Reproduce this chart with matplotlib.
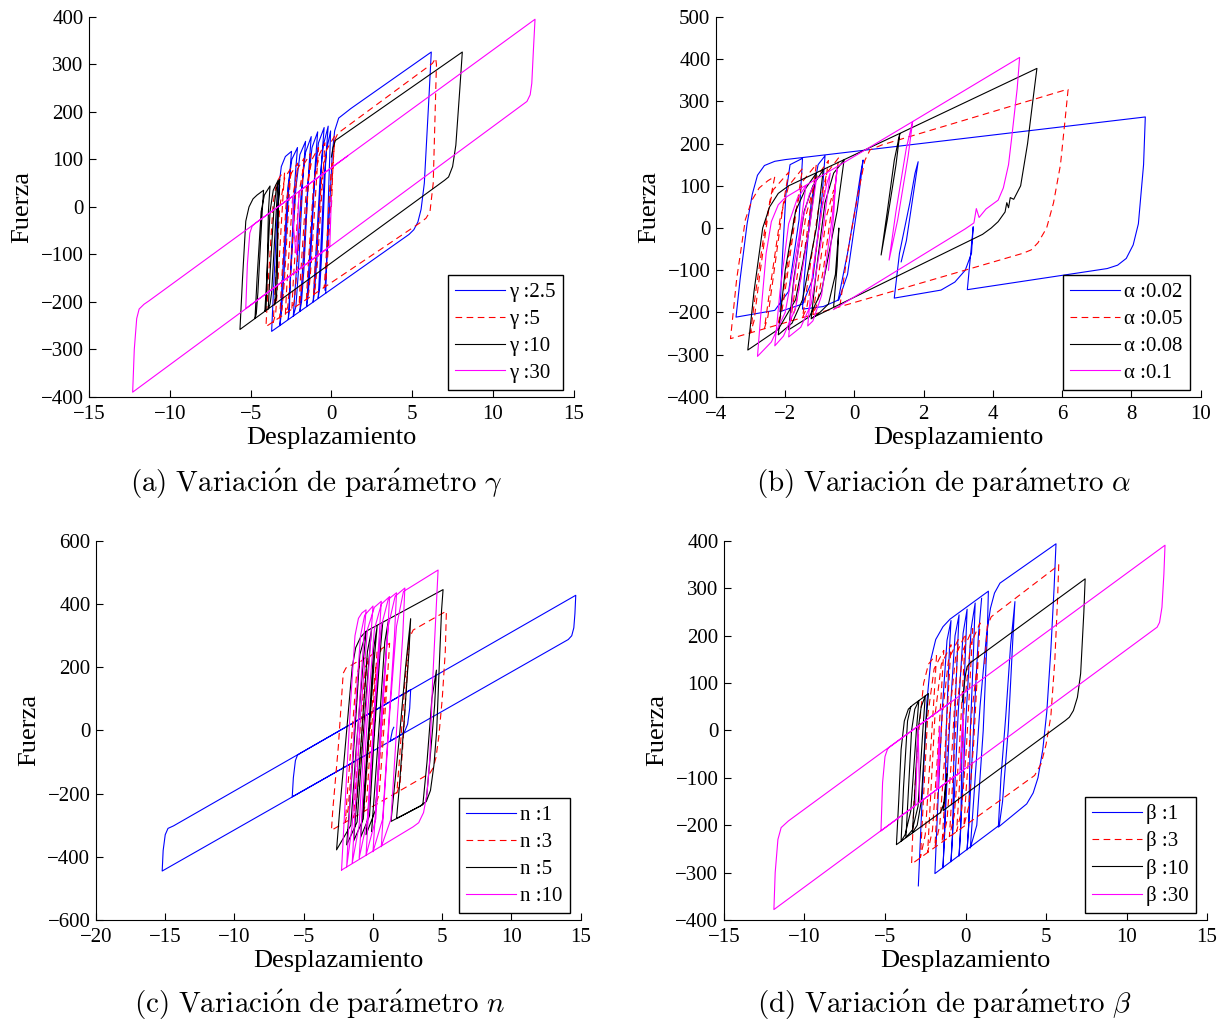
import matplotlib
matplotlib.use("Agg")
import matplotlib.pyplot as plt

plt.rcParams['font.family'] = ['Liberation Serif', 'DejaVu Serif']
plt.rcParams['mathtext.fontset'] = 'cm'

# ---------- data: (desplazamiento, fuerza) vertices ----------

# (a) gamma
a_gamma_2p5 = [
    (-0.4, -175), (-0.2, -60), (0.05, 110), (0.2, 160), (0.45, 187), (1.2, 207), (6.18, 326),
    (6.05, 240), (5.75, 50), (5.55, -5), (5.35, -32), (5.1, -48), (4.8, -58), (-3.7, -262),
    (-3.55, -150), (-3.3, 30), (-3.1, 85), (-2.85, 106), (-2.47, 117),
    (-2.6, 60), (-2.95, -150), (-3.1, -225), (-3.19, -250),
    (-3.05, -160), (-2.7, 40), (-2.45, 100), (-2.1, 125),
    (-2.25, 60), (-2.55, -150), (-2.6, -215), (-2.67, -237),
    (-2.55, -160), (-2.2, 40), (-1.95, 110), (-1.6, 138),
    (-1.75, 70), (-2.05, -140), (-2.2, -210), (-2.36, -230),
    (-2.2, -150), (-1.85, 40), (-1.6, 115), (-1.25, 148),
    (-1.4, 80), (-1.7, -130), (-1.85, -200), (-1.95, -220),
    (-1.8, -140), (-1.45, 50), (-1.2, 125), (-0.85, 158),
    (-1.0, 90), (-1.3, -120), (-1.45, -190), (-1.54, -210),
    (-1.4, -130), (-1.05, 60), (-0.8, 135), (-0.45, 167),
    (-0.6, 100), (-0.9, -110), (-1.05, -180), (-1.13, -200),
    (-1.0, -120), (-0.7, 60), (-0.5, 130), (-0.2, 170),
    (-0.35, 100), (-0.6, -100), (-0.72, -170), (-0.82, -192),
    (-0.7, -120), (-0.45, 60), (-0.3, 120), (-0.05, 160),
    (-0.15, 60), (-0.3, -120), (-0.35, -181),
]
a_gamma_5 = [
    (0.0, 0), (0.1, 90), (0.2, 140), (0.4, 155), (6.25, 302), (6.45, 313), (6.5, 300),
    (6.42, 200), (6.3, 50), (6.1, -10), (5.85, -24), (5.5, -33), (5.2, -40), (-4.05, -252),
    (-3.9, -150), (-3.6, 10), (-3.4, 50), (-3.15, 66), (-2.9, 73),
    (-3.0, 20), (-3.3, -150), (-3.45, -225), (-3.6, -243),
    (-3.5, -180), (-3.2, 0), (-2.9, 60), (-2.5, 82),
    (-2.6, 30), (-2.9, -150), (-3.05, -215), (-3.2, -234),
    (-3.1, -170), (-2.8, 10), (-2.5, 70), (-2.1, 92),
    (-2.2, 40), (-2.55, -150), (-2.7, -210), (-2.85, -226),
    (-2.75, -160), (-2.4, 20), (-2.1, 80), (-1.7, 102),
    (-1.8, 50), (-2.15, -140), (-2.3, -200), (-2.45, -216),
    (-2.35, -150), (-2.0, 30), (-1.7, 90), (-1.3, 112),
    (-1.4, 60), (-1.75, -130), (-1.9, -190), (-2.0, -206),
    (-1.9, -140), (-1.55, 40), (-1.2, 100), (-0.8, 125),
    (-0.9, 70), (-1.25, -120), (-1.4, -180), (-1.55, -196),
    (-1.45, -130), (-1.1, 50), (-0.75, 110), (-0.4, 135),
    (-0.5, 80), (-0.85, -110), (-1.0, -170), (-1.1, -185),
    (-1.0, -120), (-0.6, 60), (-0.3, 120), (0.21, 150),
    (0.1, 90), (-0.2, -90), (-0.35, -160), (-0.45, -170),
    (-0.35, -120), (-0.1, 40), (0.05, 100),
]
a_gamma_10 = [
    (0.0, 105), (0.1, 125), (0.25, 140), (8.1, 326),
    (7.95, 250), (7.7, 130), (7.5, 85), (7.25, 63), (7.0, 56), (-5.66, -258),
    (-5.5, -150), (-5.3, -30), (-5.1, 0), (-4.85, 17), (-4.6, 25), (-4.2, 35),
    (-4.3, -20), (-4.55, -180), (-4.65, -225), (-4.73, -235),
    (-4.6, -150), (-4.35, -10), (-4.15, 25), (-3.8, 44),
    (-3.9, -10), (-4.0, -180), (-4.05, -215), (-4.12, -220),
    (-4.0, -150), (-3.8, -10), (-3.6, 35), (-3.3, 56),
    (-3.4, 0), (-3.7, -180), (-3.8, -205), (-3.91, -215),
    (-3.8, -140), (-3.55, 0), (-3.4, 40), (-3.2, 58),
    (-3.3, 0), (-3.35, -150), (-3.4, -190), (-3.5, -205),
    (-3.4, -120), (-3.3, 0), (-3.2, 45),
]
a_gamma_30 = [
    (0.0, 20), (-0.05, -30), (-0.1, -83), (-5.3, -214),
    (-5.2, -120), (-5.05, -55), (-4.9, -40), (-4.7, -34), (-2.4, 22),
    (-2.35, -40), (-2.2, -95), (-2.15, -100),
    (-2.1, -40), (-2.0, 33), (12.6, 395),
    (12.5, 330), (12.4, 260), (12.3, 236), (12.1, 222), (-12.3, -390),
    (-12.2, -300), (-12.05, -235), (-11.9, -215), (-11.6, -205), (-11.3, -198), (1.0, 107),
]

# (b) alpha
b_alpha_002 = [
    (-0.47, -170), (-0.2, -60), (0.05, 60), (0.18, 130), (0.25, 161),
    (0.1, 60), (-0.2, -110), (-0.45, -170), (-0.9, -186), (-1.5, -192),
    (-1.45, -120), (-1.25, 60), (-1.05, 150), (-0.85, 171),
    (-0.95, 60), (-1.2, -120), (-1.5, -180), (-2.15, -198),
    (-2.1, -100), (-1.98, 80), (-1.86, 150), (-1.5, 165),
    (-1.6, 20), (-1.9, -150), (-2.3, -195), (-3.42, -211),
    (-3.3, -120), (-3.1, 10), (-2.95, 80), (-2.8, 125), (-2.6, 148), (-2.3, 158), (-2.0, 162), (8.4, 263),
    (8.35, 150), (8.2, 10), (8.05, -40), (7.85, -72), (7.6, -88), (7.3, -96), (3.26, -146),
    (3.43, 3),
    (3.38, -60), (3.2, -100), (2.9, -128), (2.5, -147), (1.15, -166),
    (1.3, -60), (1.6, 60), (1.75, 130), (1.84, 157),
    (1.7, 80), (1.5, -30), (1.35, -80),
]
b_alpha_005 = [
    (-0.42, -185), (-0.2, -60), (0.1, 80), (0.3, 160), (0.45, 185), (0.8, 197), (6.05, 326), (6.17, 328),
    (6.1, 270), (5.95, 150), (5.75, 60), (5.55, 0), (5.3, -35), (5.1, -52), (4.86, -60), (-3.58, -262),
    (-3.4, -120), (-3.15, 20), (-2.96, 66), (-2.75, 95), (-2.5, 112), (-2.3, 122),
    (-2.45, 60), (-2.75, -120), (-2.9, -220), (-3.0, -248),
    (-2.85, -150), (-2.55, 20), (-2.35, 90), (-1.9, 132),
    (-2.05, 60), (-2.35, -120), (-2.5, -210), (-2.6, -238),
    (-2.45, -150), (-2.15, 20), (-1.9, 100), (-1.5, 141),
    (-1.65, 60), (-1.95, -120), (-2.1, -200), (-2.2, -229),
    (-2.05, -150), (-1.75, 20), (-1.5, 110), (-1.1, 151),
    (-1.25, 60), (-1.55, -120), (-1.72, -195), (-1.85, -220),
    (-1.7, -140), (-1.4, 30), (-1.1, 120), (-0.75, 160),
    (-0.9, 70), (-1.2, -110), (-1.38, -190), (-1.5, -212),
    (-1.35, -130), (-1.05, 40), (-0.8, 130), (-0.45, 167),
    (-0.6, 80), (-0.9, -100), (-1.08, -180), (-1.2, -205),
    (-1.05, -120), (-0.8, 30), (-0.6, 90),
]
b_alpha_008 = [
    (-0.6, -185), (-0.5, -90), (-0.45, 0),
    (-0.55, -110), (-0.75, -180), (-1.0, -200), (-1.25, -215),
    (-1.1, -100), (-0.85, 60), (-0.6, 130), (-0.3, 161),
    (-0.5, 40), (-0.95, -150), (-1.3, -210), (-1.9, -241),
    (-1.75, -120), (-1.45, 40), (-1.2, 100), (-0.9, 138),
    (-1.1, 0), (-1.5, -170), (-1.8, -225), (-2.2, -253),
    (-2.0, -100), (-1.7, 40), (-1.4, 95), (-1.1, 130),
    (-1.3, 0), (-1.7, -170), (-2.2, -240), (-3.08, -289),
    (-2.9, -150), (-2.65, 0), (-2.45, 50), (-2.2, 82), (-1.9, 100), (1.31, 224),
    (1.2, 150), (0.95, 20), (0.77, -64),
    (0.95, 40), (1.15, 160), (1.31, 224), (5.27, 378),
    (5.15, 300), (5.0, 200), (4.8, 100), (4.6, 68), (4.5, 72), (4.45, 48), (4.4, 60),
    (4.35, 38), (4.15, 15), (3.95, 0), (3.7, -15), (-0.43, -181), (-1.2, -212),
]
b_alpha_01 = [
    (-0.75, -100), (-0.6, 30), (-0.55, 100), (-0.5, 140),
    (-0.65, 20), (-0.95, -160), (-1.2, -220), (-1.35, -232),
    (-1.2, -100), (-0.95, 40), (-0.8, 105), (-0.7, 130),
    (-0.9, 0), (-1.25, -180), (-1.55, -235), (-1.9, -258),
    (-1.75, -130), (-1.5, 20), (-1.3, 80), (-1.1, 115),
    (-1.3, 0), (-1.7, -190), (-2.05, -256), (-2.3, -279),
    (-2.15, -150), (-1.9, 10), (-1.65, 70), (-1.4, 100),
    (-1.6, -20), (-2.0, -200), (-2.4, -270), (-2.8, -304),
    (-2.7, -200), (-2.55, -60), (-2.4, 15), (-2.2, 55), (-2.0, 72), (1.68, 252),
    (1.55, 170), (1.25, 20), (1.0, -76),
    (1.2, 40), (1.5, 190), (1.68, 252), (4.77, 404),
    (4.7, 330), (4.55, 220), (4.45, 150), (4.3, 95), (4.15, 66), (3.8, 45), (3.6, 25), (3.52, 46),
    (3.45, 12), (3.2, -2), (-0.6, -193),
]

# (c) n
c_n_1 = [
    (0.0, -65), (-5.83, -210), (-5.75, -150), (-5.6, -95), (-5.45, -78), (-5.2, -71), (2.72, 129),
    (2.65, 70), (2.5, 20), (2.3, -2), (2.0, -15), (-15.22, -445),
    (-15.15, -380), (-15.0, -330), (-14.8, -310), (-14.4, -302), (14.64, 428),
    (14.58, 370), (14.5, 325), (14.35, 300), (14.1, 288), (1.25, -33), (1.4, 0), (1.5, 10),
]
c_n_3 = [
    (2.66, 312), (2.5, 200), (2.15, -50), (1.95, -170), (1.72, -198),
    (1.9, -100), (2.3, 150), (2.6, 290), (2.9, 318), (5.3, 378),
    (5.22, 250), (5.0, 100), (4.75, -20), (4.55, -85), (4.35, -118), (4.1, -136), (-3.0, -316),
    (-2.9, -250), (-2.5, -50), (-2.15, 181), (-1.95, 198), (-1.67, 204), (-1.0, 221),
    (-1.15, 120), (-1.5, -100), (-1.8, -250), (-2.0, -290),
    (-1.85, -200), (-1.5, 0), (-1.2, 170), (-0.9, 218), (-0.4, 236),
    (-0.55, 150), (-0.9, -80), (-1.2, -240), (-1.4, -276),
    (-1.25, -180), (-0.9, 20), (-0.55, 200), (-0.2, 236), (0.3, 253),
    (0.15, 150), (-0.2, -50), (-0.45, -220), (-0.7, -258),
    (-0.5, -150), (-0.1, 60), (0.2, 200), (0.6, 258), (1.2, 276),
    (1.05, 170), (0.7, -50), (0.45, -200), (0.2, -236),
    (0.4, -140), (0.8, 80), (1.0, 180),
]
c_n_5 = [
    (-0.1, -320), (0.1, -200), (0.5, 50), (0.85, 280), (1.1, 345),
    (0.95, 250), (0.55, 0), (0.2, -250), (-0.5, -330),
    (-0.3, -230), (0.1, 20), (0.45, 270), (0.7, 340),
    (0.5, 240), (0.1, -10), (-0.25, -270), (-0.9, -339),
    (-0.7, -230), (-0.3, 10), (0.05, 260), (0.3, 330),
    (0.1, 230), (-0.3, -20), (-0.7, -280), (-1.4, -350),
    (-1.2, -240), (-0.8, 0), (-0.4, 250), (-0.1, 320),
    (-0.3, 220), (-0.75, -40), (-1.15, -290), (-1.9, -362),
    (-1.7, -250), (-1.3, 0), (-0.95, 240), (-0.5, 312),
    (-0.7, 220), (-1.2, -50), (-1.6, -300), (-2.63, -378),
    (-2.4, -250), (-1.9, 0), (-1.5, 200), (-1.25, 262), (-0.9, 295), (-0.5, 314), (5.06, 446),
    (4.95, 380), (4.8, 220), (4.6, 0), (4.4, -110), (4.15, -190), (3.85, -225), (3.38, -240), (1.3, -288),
    (1.5, -200), (1.95, 0), (2.35, 200), (2.72, 354),
    (2.6, 250), (2.2, 0), (1.9, -180), (1.7, -279),
    (3.6, -235), (3.9, -100), (4.25, 100), (4.58, 191),
    (4.45, 80), (4.1, -100), (3.85, -220),
]
c_n_10 = [
    (-2.27, -442), (-2.1, -300), (-1.6, 100), (-1.3, 300), (-1.05, 355), (-0.8, 372), (-0.5, 382),
    (-0.65, 300), (-1.1, 0), (-1.5, -300), (-1.9, -432),
    (-1.75, -300), (-1.3, 50), (-0.9, 300), (-0.6, 365), (0.0, 394),
    (-0.15, 300), (-0.6, 0), (-1.0, -300), (-1.5, -420),
    (-1.35, -300), (-0.9, 50), (-0.4, 320), (0.1, 390), (0.6, 409),
    (0.45, 300), (0.0, 0), (-0.4, -280), (-1.0, -405),
    (-0.85, -300), (-0.4, 50), (0.1, 320), (0.6, 400), (1.2, 424),
    (1.05, 300), (0.6, 0), (0.2, -280), (-0.5, -395),
    (-0.35, -280), (0.1, 50), (0.6, 330), (1.1, 415), (1.7, 436),
    (1.55, 300), (1.1, 0), (0.7, -280), (0.0, -384),
    (0.15, -280), (0.6, 50), (1.1, 330), (1.6, 425), (2.3, 451),
    (2.15, 300), (1.7, 0), (1.3, -280), (0.6, -368),
    (0.75, -260), (1.2, 50), (1.7, 330), (2.2, 440), (4.7, 508),
    (4.5, 330), (4.3, 150), (4.1, -90), (3.9, -200), (3.65, -260), (3.3, -292), (2.9, -305), (-2.27, -442),
]

# (d) beta
d_beta_1 = [
    (-2.93, -328), (-2.7, -150), (-2.4, 60), (-2.15, 150), (-1.85, 192), (-1.4, 219), (-0.96, 235), (1.42, 294),
    (1.35, 200), (1.1, 0), (0.7, -200), (0.3, -248),
    (0.5, -150), (0.9, 50), (1.3, 200), (1.55, 258), (1.8, 290), (2.14, 311), (5.62, 394),
    (5.5, 300), (5.3, 170), (5.05, 40), (4.8, -40), (4.5, -100), (4.2, -132), (3.8, -155), (2.04, -204),
    (2.2, -100), (2.5, 30), (2.8, 180), (3.07, 272),
    (2.95, 200), (2.65, 0), (2.3, -150), (2.1, -200), (-1.9, -302),
    (-1.75, -180), (-1.45, 40), (-1.15, 190), (-0.9, 232),
    (-1.0, 170), (-1.2, 0), (-1.3, -220), (-1.4, -290),
    (-1.25, -180), (-0.95, 40), (-0.65, 200), (-0.4, 244),
    (-0.5, 170), (-0.7, 0), (-0.8, -220), (-0.9, -277),
    (-0.75, -180), (-0.45, 40), (-0.15, 205), (0.1, 256),
    (0.0, 170), (-0.2, 0), (-0.3, -210), (-0.4, -265),
    (-0.25, -170), (0.05, 40), (0.35, 215), (0.6, 269),
    (0.5, 170), (0.3, 0), (0.2, -200), (0.1, -252),
    (0.25, -170), (0.55, 40), (0.8, 200), (1.0, 279),
]
d_beta_3 = [
    (1.2, 140), (1.35, 220), (1.6, 240), (5.6, 344), (5.79, 350),
    (5.72, 280), (5.55, 150), (5.3, 30), (5.0, -30), (4.7, -70), (4.29, -95), (-3.35, -282),
    (-3.2, -150), (-2.9, 0), (-2.6, 100), (-2.3, 140), (-2.0, 153), (-1.8, 158),
    (-1.9, 100), (-2.2, -60), (-2.5, -220), (-2.8, -268),
    (-2.65, -170), (-2.35, 30), (-1.95, 130), (-1.35, 169),
    (-1.45, 110), (-1.75, -60), (-2.05, -210), (-2.35, -257),
    (-2.2, -160), (-1.9, 30), (-1.5, 140), (-0.9, 181),
    (-1.0, 120), (-1.3, -60), (-1.6, -200), (-1.9, -246),
    (-1.75, -150), (-1.45, 30), (-1.05, 150), (-0.45, 192),
    (-0.55, 130), (-0.85, -50), (-1.15, -190), (-1.45, -235),
    (-1.3, -150), (-1.0, 30), (-0.6, 160), (0.0, 204),
    (-0.1, 140), (-0.4, -50), (-0.7, -180), (-1.0, -224),
    (-0.85, -140), (-0.55, 40), (-0.15, 170), (0.45, 215),
    (0.35, 150), (0.05, -40), (-0.25, -170), (-0.55, -213),
    (-0.4, -130), (-0.1, 40), (0.3, 180), (0.9, 227),
    (0.8, 160), (0.5, -30), (0.2, -160), (-0.1, -202),
    (0.05, -120), (0.4, 40), (0.8, 160),
]
d_beta_10 = [
    (-0.2, 60), (0.0, 118), (0.1, 135), (0.3, 143), (7.43, 320),
    (7.35, 250), (7.15, 120), (6.95, 70), (6.7, 42), (6.45, 28), (6.2, 21), (-1.39, -169),
    (-1.25, -120), (-1.15, -91),
    (-1.3, -150), (-1.55, -173), (-4.29, -241),
    (-4.15, -150), (-4.0, -40), (-3.8, 20), (-3.55, 45), (-3.3, 53), (-2.3, 78),
    (-2.45, 20), (-2.75, -150), (-3.0, -200), (-3.3, -216),
    (-3.15, -130), (-2.95, 0), (-2.75, 50), (-2.5, 73),
    (-2.65, 0), (-2.95, -160), (-3.3, -210), (-3.7, -226),
    (-3.55, -130), (-3.35, 0), (-3.15, 45), (-2.9, 63),
    (-3.05, 0), (-3.4, -170), (-3.75, -220), (-4.0, -234),
    (-3.85, -120), (-3.6, 20), (-3.4, 50),
]
d_beta_30 = [
    (-0.1, -83), (-0.15, 36),
    (-0.25, -20), (-0.35, -89), (-1.7, -123),
    (-1.62, -40), (-1.6, 8),
    (-1.7, -60), (-1.8, -125), (-2.85, -152),
    (-2.9, -60), (-2.95, 9),
    (-3.0, -40), (-3.1, -158), (-5.25, -212),
    (-5.15, -110), (-5.0, -55), (-4.85, -40), (-4.75, -36), (12.39, 391),
    (12.32, 330), (12.2, 260), (12.05, 228), (11.9, 218), (-11.9, -378),
    (-11.82, -300), (-11.65, -230), (-11.45, -205), (-11.0, -191), (-1.0, 58),
]

gamma_labels = [u'\u03b3 :2.5', u'\u03b3 :5', u'\u03b3 :10', u'\u03b3 :30']
alpha_labels = [u'\u03b1 :0.02', u'\u03b1 :0.05', u'\u03b1 :0.08', u'\u03b1 :0.1']
n_labels = ['n :1', 'n :3', 'n :5', 'n :10']
beta_labels = [u'\u03b2 :1', u'\u03b2 :3', u'\u03b2 :10', u'\u03b2 :30']

COLORS = ['#0000ff', '#ff0000', '#000000', '#ff00ff']
DASHED = [False, True, False, False]

panels = [
    dict(rect=[0.0731, 0.612, 0.398, 0.3715],
         series=[a_gamma_2p5, a_gamma_5, a_gamma_10, a_gamma_30], labels=gamma_labels,
         xlim=(-15, 15), xticks=range(-15, 16, 5), ylim=(-400, 400), yticks=range(-400, 401, 100),
         caption=r'$\mathrm{(a)\ Variaci\acute{o}n\ de\ par\acute{a}metro}\ \gamma$', cap_xy=(316, 484)),
    dict(rect=[0.5878, 0.612, 0.398, 0.3715],
         series=[b_alpha_002, b_alpha_005, b_alpha_008, b_alpha_01], labels=alpha_labels,
         xlim=(-4, 10), xticks=range(-4, 11, 2), ylim=(-400, 500), yticks=range(-400, 501, 100),
         caption=r'$\mathrm{(b)\ Variaci\acute{o}n\ de\ par\acute{a}metro}\ \alpha$', cap_xy=(944, 484)),
    dict(rect=[0.0788, 0.1007, 0.398, 0.3705],
         series=[c_n_1, c_n_3, c_n_5, c_n_10], labels=n_labels,
         xlim=(-20, 15), xticks=range(-20, 16, 5), ylim=(-600, 600), yticks=range(-600, 601, 200),
         caption=r'$\mathrm{(c)\ Variaci\acute{o}n\ de\ par\acute{a}metro}\ n$', cap_xy=(320, 1005)),
    dict(rect=[0.5944, 0.1007, 0.3966, 0.3705],
         series=[d_beta_1, d_beta_3, d_beta_10, d_beta_30], labels=beta_labels,
         xlim=(-15, 15), xticks=range(-15, 16, 5), ylim=(-400, 400), yticks=range(-400, 401, 100),
         caption=r'$\mathrm{(d)\ Variaci\acute{o}n\ de\ par\acute{a}metro}\ \beta$', cap_xy=(944, 1005)),
]

W, H = 1218, 1023
fig = plt.figure(figsize=(W / 100, H / 100), dpi=100)

for p in panels:
    ax = fig.add_axes(p['rect'])
    for pts, lab, col, dashed in zip(p['series'], p['labels'], COLORS, DASHED):
        xs = [v[0] for v in pts]
        ys = [v[1] for v in pts]
        line, = ax.plot(xs, ys, color=col, lw=0.8, label=lab)
        if dashed:
            line.set_dashes((6, 4))

    ax.set_xlim(*p['xlim'])
    ax.set_ylim(*p['ylim'])
    ax.set_xticks(list(p['xticks']))
    ax.set_yticks(list(p['yticks']))
    for s in ('top', 'right'):
        ax.spines[s].set_visible(False)
    for s in ('left', 'bottom'):
        ax.spines[s].set_linewidth(0.8)
    ax.tick_params(direction='in', length=5, width=0.8, labelsize=15)
    ax.tick_params(axis='x', pad=6)
    ax.tick_params(axis='y', pad=4)

    ax.set_xlabel('Desplazamiento', fontsize=19)
    ax.set_ylabel('Fuerza', fontsize=19)
    ax.xaxis.set_label_coords(0.5, -0.08)
    ax.yaxis.set_label_coords(-0.115, 0.5)

    leg = ax.legend(loc='lower right', bbox_to_anchor=(0.978, 0.018), borderaxespad=0,
                    fontsize=15, frameon=True, fancybox=False, framealpha=1,
                    edgecolor='black', handlelength=2.4, handletextpad=0.2,
                    labelspacing=0.35, borderpad=0.35)
    leg.get_frame().set_linewidth(1.0)

    fig.text(p['cap_xy'][0] / W, 1 - p['cap_xy'][1] / H, p['caption'],
             ha='center', va='center', fontsize=21)

fig.savefig('out.png', dpi=100)
